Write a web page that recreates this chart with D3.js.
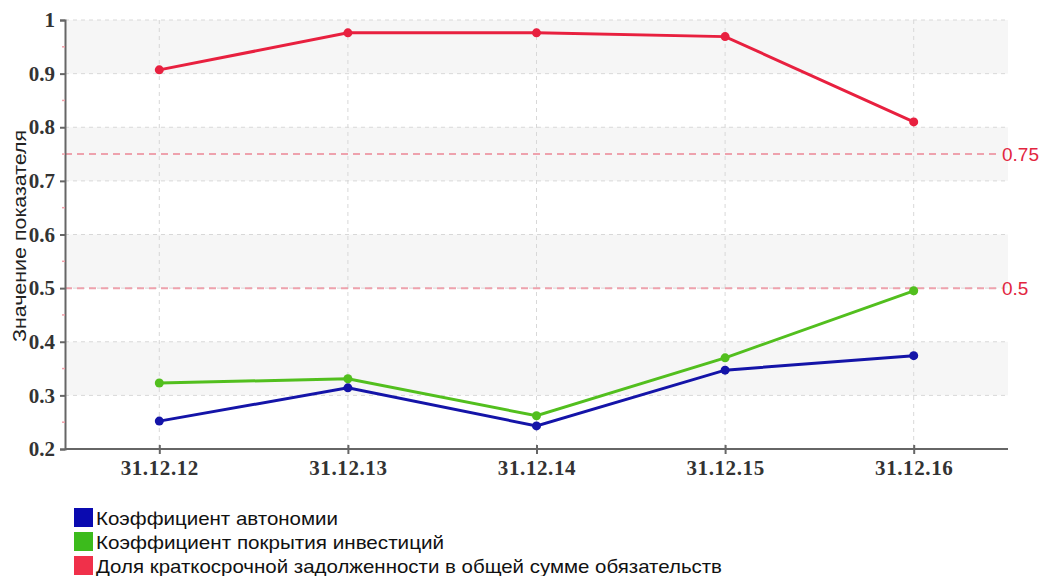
<!DOCTYPE html>
<html>
<head>
<meta charset="utf-8">
<script src="https://cdn.jsdelivr.net/npm/d3@7"></script>
<style>
  html, body { margin: 0; padding: 0; background: #fff; }
  svg { display: block; }
</style>
</head>
<body>
<svg id="chart" width="1046" height="576"></svg>
<script>
// Периоды (даты отчётности)
const categories = ["31.12.12", "31.12.13", "31.12.14", "31.12.15", "31.12.16"];

// Коэффициент автономии
const autonomy = [0.252, 0.314, 0.243, 0.347, 0.374];
// Коэффициент покрытия инвестиций
const investCoverage = [0.323, 0.331, 0.262, 0.370, 0.495];
// Доля краткосрочной задолженности в общей сумме обязательств
const shortTermShare = [0.907, 0.976, 0.976, 0.969, 0.810];

const seriesNames = [
  "Коэффициент автономии",
  "Коэффициент покрытия инвестиций",
  "Доля краткосрочной задолженности в общей сумме обязательств"
];
const seriesColors = ["#1414a8", "#52bf1e", "#e8203f"];
const legendColors = ["#0a0ab0", "#3cbb1c", "#f0304a"];

// Нормативные значения
const thresholds = [0.75, 0.5];
const thresholdLabels = ["0.75", "0.5"];

const yTicks = [0.2, 0.3, 0.4, 0.5, 0.6, 0.7, 0.8, 0.9, 1];
const yTickLabels = ["0.2", "0.3", "0.4", "0.5", "0.6", "0.7", "0.8", "0.9", "1"];

const svg = d3.select("#chart");
const plotLeft = 65, plotRight = 1008, plotTop = 20, plotBottom = 449;

const x = d3.scalePoint().domain(categories).range([plotLeft, plotRight]).padding(0.5);
const y = d3.scaleLinear().domain([0.2, 1]).range([plotBottom, plotTop]);

// Чередующиеся полосы фона
const bands = d3.range(0, yTicks.length - 1).filter(i => (yTicks.length - 2 - i) % 2 === 0);
svg.append("g").selectAll("rect")
  .data(bands)
  .join("rect")
  .attr("x", plotLeft)
  .attr("width", plotRight - plotLeft)
  .attr("y", i => y(yTicks[i + 1]))
  .attr("height", i => y(yTicks[i]) - y(yTicks[i + 1]))
  .attr("fill", "#f6f6f6");

// Сетка
const grid = svg.append("g").attr("stroke", "#d8d8d8").attr("stroke-width", 1).attr("stroke-dasharray", "4,4");
grid.selectAll("line.h")
  .data(yTicks.slice(1))
  .join("line")
  .attr("class", "h")
  .attr("x1", plotLeft).attr("x2", plotRight)
  .attr("y1", d => y(d)).attr("y2", d => y(d));
grid.selectAll("line.v")
  .data(categories)
  .join("line")
  .attr("class", "v")
  .attr("x1", d => x(d)).attr("x2", d => x(d))
  .attr("y1", plotTop).attr("y2", plotBottom);

// Нормативные линии
const thr = svg.append("g");
thr.selectAll("line")
  .data(thresholds)
  .join("line")
  .attr("x1", plotLeft).attr("x2", 998)
  .attr("y1", d => y(d)).attr("y2", d => y(d))
  .attr("stroke", "#eea2ad")
  .attr("stroke-width", 2)
  .attr("stroke-dasharray", "7,5");
thr.selectAll("text")
  .data(thresholds)
  .join("text")
  .attr("x", 1002)
  .attr("y", d => y(d))
  .attr("dy", "0.36em")
  .attr("fill", "#e2263f")
  .attr("font-family", "Liberation Sans, sans-serif")
  .attr("font-size", 19)
  .text((d, i) => thresholdLabels[i]);

// Оси
const yAxis = d3.axisLeft(y).tickValues(yTicks).tickFormat((d, i) => yTickLabels[i]).tickSize(5).tickPadding(5);
const gy = svg.append("g").attr("transform", `translate(${plotLeft},0)`).call(yAxis);
gy.select(".domain").attr("stroke", "#666").attr("stroke-width", 2);
gy.selectAll(".tick line").attr("stroke", "#666").attr("stroke-width", 2);
gy.selectAll(".tick text")
  .attr("font-family", "Liberation Serif, serif")
  .attr("font-weight", "bold")
  .attr("font-size", 21)
  .attr("fill", "#333");

// Промежуточные деления
svg.append("g").selectAll("line")
  .data(yTicks.slice(0, -1).map(d => d + 0.05))
  .join("line")
  .attr("x1", plotLeft - 3).attr("x2", plotLeft)
  .attr("y1", d => y(d)).attr("y2", d => y(d))
  .attr("stroke", "#f0a0aa").attr("stroke-width", 1.5);

const xAxis = d3.axisBottom(x).tickSize(5).tickPadding(6);
const gx = svg.append("g").attr("transform", `translate(0,${plotBottom})`).call(xAxis);
gx.select(".domain").attr("stroke", "#666").attr("stroke-width", 2).attr("d", `M${plotLeft},0H${plotRight}`);
gx.selectAll(".tick line").attr("stroke", "#666").attr("stroke-width", 2).attr("y1", -4);
gx.selectAll(".tick text")
  .attr("font-family", "Liberation Serif, serif")
  .attr("font-weight", "bold")
  .attr("font-size", 21)
  .attr("letter-spacing", 0.6)
  .attr("fill", "#333");

// Подпись оси Y
svg.append("text")
  .attr("transform", `translate(26,236) rotate(-90)`)
  .attr("text-anchor", "middle")
  .attr("font-family", "Liberation Sans, sans-serif")
  .attr("font-size", 19)
  .attr("textLength", 212)
  .attr("lengthAdjust", "spacingAndGlyphs")
  .attr("fill", "#222")
  .text("Значение показателя");

// Ряды
const allSeries = [autonomy, investCoverage, shortTermShare];
const line = d3.line().x((d, i) => x(categories[i])).y(d => y(d));
const gs = svg.append("g");
allSeries.forEach((vals, k) => {
  gs.append("path")
    .attr("d", line(vals))
    .attr("fill", "none")
    .attr("stroke", seriesColors[k])
    .attr("stroke-width", 3);
  gs.append("g").selectAll("circle")
    .data(vals)
    .join("circle")
    .attr("cx", (d, i) => x(categories[i]))
    .attr("cy", d => y(d))
    .attr("r", 4.5)
    .attr("fill", seriesColors[k]);
});

// Легенда
const legendWidths = [242, 348, 626];
const legend = svg.append("g").attr("transform", "translate(74,508)");
seriesNames.forEach((name, k) => {
  const g = legend.append("g").attr("transform", `translate(0,${k * 24})`);
  g.append("rect").attr("width", 19).attr("height", 19).attr("fill", legendColors[k]);
  g.append("text")
    .attr("x", 22).attr("y", 17)
    .attr("font-family", "Liberation Sans, sans-serif")
    .attr("font-size", 19)
    .attr("textLength", legendWidths[k])
    .attr("lengthAdjust", "spacingAndGlyphs")
    .attr("fill", "#111")
    .text(name);
});
</script>
</body>
</html>
